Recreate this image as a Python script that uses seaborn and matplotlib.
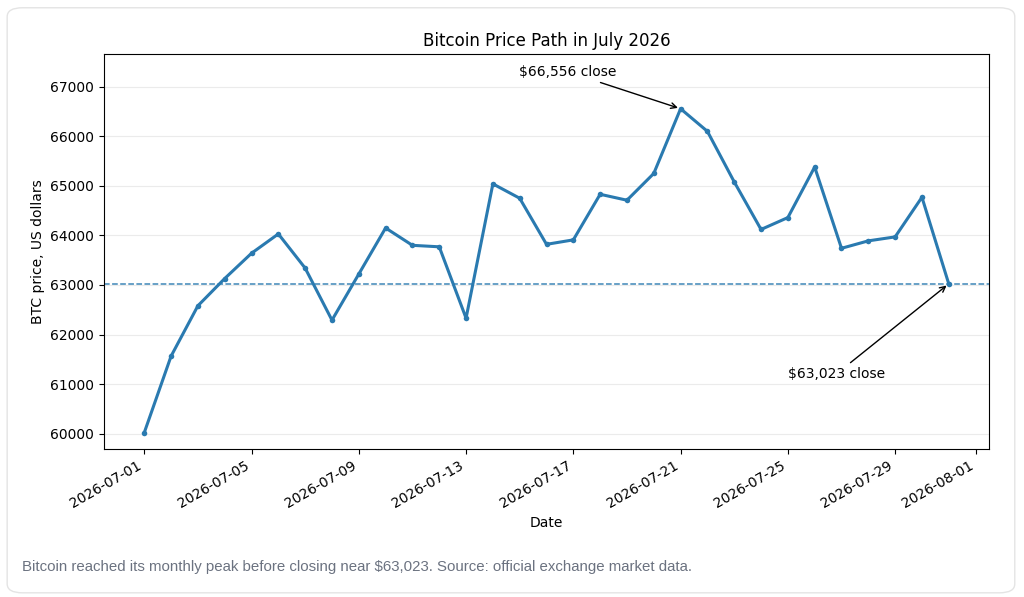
import pandas as pd
import seaborn as sns
import matplotlib.pyplot as plt
import matplotlib.dates as mdates
from matplotlib.patches import FancyBboxPatch

# Daily BTC closing prices, July 2026
dates = pd.date_range("2026-07-01", "2026-07-31", freq="D")
prices = [60020, 61564, 62580, 63130, 63640, 64030, 63340, 62290, 63220, 64150,
          63800, 63770, 62330, 65040, 64750, 63820, 63910, 64830, 64710, 65250,
          66556, 66100, 65080, 64120, 64360, 65380, 63740, 63890, 63970, 64770,
          63023]
peak_label = "$66,556 close"
close_label = "$63,023 close"
caption = "Bitcoin reached its monthly peak before closing near $63,023. Source: official exchange market data."

df = pd.DataFrame({"date": dates, "price": prices})
line_color = "#2a7ab0"

fig = plt.figure(figsize=(10.24, 5.97), dpi=100)
ax = fig.add_axes([0.1016, 0.2479, 0.8642, 0.6616])

# rounded card frame around everything
fig.patches.append(FancyBboxPatch((0.007, 0.007), 0.984, 0.98,
                                  boxstyle="round,pad=0,rounding_size=0.015",
                                  transform=fig.transFigure, facecolor="none",
                                  edgecolor="#e4e4e4", linewidth=1.0, zorder=0))

sns.lineplot(data=df, x="date", y="price", ax=ax, color=line_color,
             linewidth=2.2, marker="o", markersize=4, markeredgewidth=0, zorder=3)

close = prices[-1]
ax.axhline(close, color=line_color, linestyle="--", linewidth=1.1, alpha=0.9, zorder=2)

ax.set_ylim(59690, 67660)
ax.grid(axis="y", color="#ebebeb", linewidth=0.8)
ax.set_axisbelow(True)

ax.xaxis.set_major_locator(mdates.DayLocator(bymonthday=[1, 5, 9, 13, 17, 21, 25, 29]))
ax.xaxis.set_major_formatter(mdates.DateFormatter("%Y-%m-%d"))
plt.setp(ax.get_xticklabels(), rotation=30, ha="right")

ax.set_title("Bitcoin Price Path in July 2026", fontsize=12)
ax.set_xlabel("Date")
ax.set_ylabel("BTC price, US dollars")

peak_i = prices.index(max(prices))
ax.annotate(peak_label, xy=(dates[peak_i], prices[peak_i]),
            xytext=(dates[peak_i] - pd.Timedelta(days=4.2), 67300),
            ha="center", va="center", fontsize=10,
            arrowprops=dict(arrowstyle="->", color="black", lw=1))
ax.annotate(close_label, xy=(dates[-1], close),
            xytext=(dates[-1] - pd.Timedelta(days=4.2), 61200),
            ha="center", va="center", fontsize=10,
            arrowprops=dict(arrowstyle="->", color="black", lw=1))

fig.text(0.0215, 0.05, caption, fontsize=10.8, color="#6b7280",
         family=["Liberation Sans", "DejaVu Sans"], va="center")

fig.savefig("out.png", dpi=100)
